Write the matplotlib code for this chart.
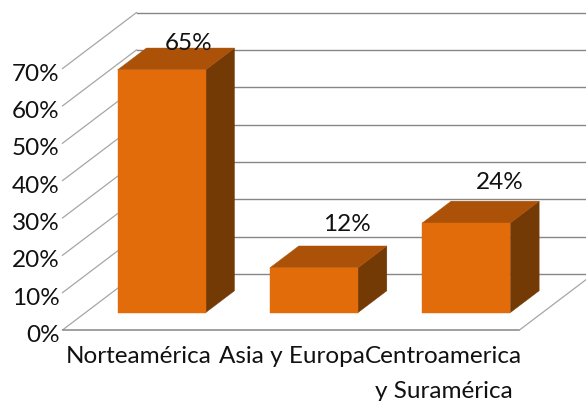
"""plot.py - oblique 3D-style bar chart, drawn on a pixel-sized axes."""

import matplotlib
matplotlib.use("Agg")
import matplotlib.pyplot as plt
from matplotlib.patches import Polygon

categories = ["Norteamérica", "Asia y Europa", "Centroamerica\ny Suramérica"]
values = [65, 12, 24]
value_labels = ["65%", "12%", "24%"]
ticks = [0, 10, 20, 30, 40, 50, 60, 70]
tick_labels = ["0%", "10%", "20%", "30%", "40%", "50%", "60%", "70%"]

# projection of (category, value, depth) onto the picture
ORIGIN_X, ORIGIN_Y = 62.5, 330.0
CAT_W = 152.33
PX_PER_PCT = 3.735
DEPTH_X, DEPTH_Y = 74.0, -56.0

BAR_W = 0.578
BAR_D0, BAR_D1 = 0.31, 0.70

GRID = "#868686"
GRID_LIGHT = "#a6a6a6"
FRONT = "#e36c0a"
TOP = "#ab5208"
SIDE = "#733a06"
FONT = "Lato"
FS = 17.5

# data label shift from the top front edge centre, in pixels
LABEL_SHIFT = [(27, -26.5), (33, -43), (33, -40.5)]


def proj(cat, val, depth=0.0):
    x = ORIGIN_X + cat * CAT_W + depth * DEPTH_X
    y = ORIGIN_Y - val * PX_PER_PCT + depth * DEPTH_Y
    return x, y


def draw_walls(ax):
    n = len(categories)
    for t in ticks:
        x0, y0 = proj(0, t)
        x1, y1 = proj(0, t, 1)
        x2, y2 = proj(n, t, 1)
        ax.plot([x0, x1], [y0, y1], color=GRID_LIGHT, lw=0.9, zorder=1)
        ax.plot([x1, x2], [y1, y2], color=GRID, lw=1.0, zorder=1)
    # floor front and right edges
    ax.plot(*zip(proj(0, 0), proj(n, 0)), color=GRID, lw=1.1, zorder=1)
    ax.plot(*zip(proj(n, 0), proj(n, 0, 1)), color=GRID_LIGHT, lw=0.9, zorder=1)


def draw_bar(ax, i, val):
    c0 = i + 0.5 - BAR_W / 2
    c1 = i + 0.5 + BAR_W / 2
    front = [proj(c0, 0, BAR_D0), proj(c1, 0, BAR_D0),
             proj(c1, val, BAR_D0), proj(c0, val, BAR_D0)]
    top = [proj(c0, val, BAR_D0), proj(c1, val, BAR_D0),
           proj(c1, val, BAR_D1), proj(c0, val, BAR_D1)]
    side = [proj(c1, 0, BAR_D0), proj(c1, 0, BAR_D1),
            proj(c1, val, BAR_D1), proj(c1, val, BAR_D0)]
    for pts, col in ((side, SIDE), (top, TOP), (front, FRONT)):
        ax.add_patch(Polygon(pts, closed=True, facecolor=col, edgecolor=col,
                             lw=0.3, zorder=3))


fig = plt.figure(figsize=(5.86, 4.01), dpi=100)
ax = fig.add_axes([0, 0, 1, 1])
ax.set_xlim(0, 586)
ax.set_ylim(401, 0)
ax.axis("off")

draw_walls(ax)

for i, v in enumerate(values):
    draw_bar(ax, i, v)
    x, y = proj(i + 0.5, v, BAR_D0)
    dx, dy = LABEL_SHIFT[i]
    ax.text(x + dx, y + dy, value_labels[i], ha="center", va="center",
            family=FONT, fontsize=FS, color="#111111", zorder=5)

for t, lab in zip(ticks, tick_labels):
    x, y = proj(0, t)
    ax.text(x - 3, y + 5.5, lab, ha="right", va="center",
            family=FONT, fontsize=FS, color="#111111")

for i, lab in enumerate(categories):
    x, y = proj(i + 0.5, 0)
    ax.text(x + 0.5, y + 16, lab, ha="center", va="top", linespacing=1.85,
            family=FONT, fontsize=FS, color="#111111")

fig.savefig("out.png", dpi=100)
